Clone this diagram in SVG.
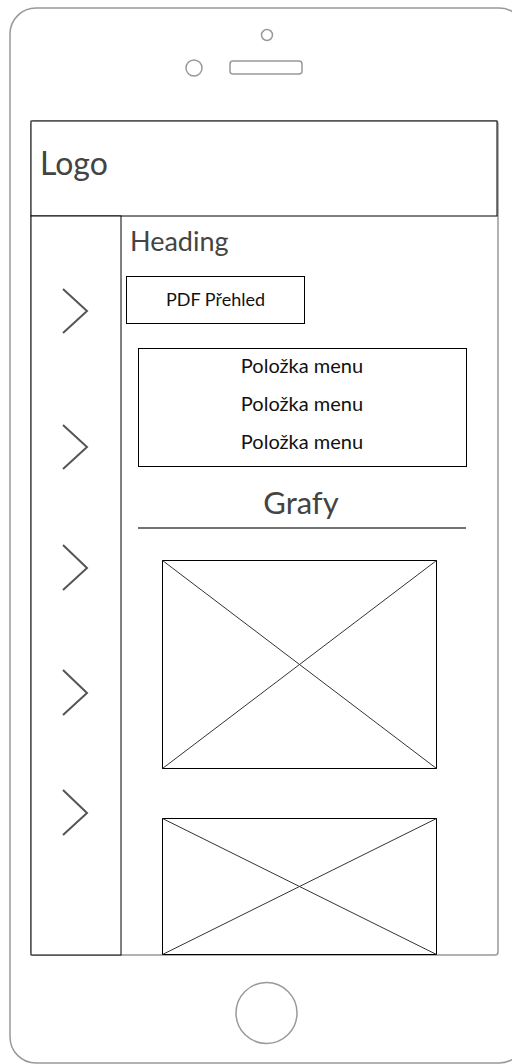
<svg xmlns="http://www.w3.org/2000/svg" width="512" height="1064" viewBox="0 0 512 1064">
  <style>
    .frame { fill: #ffffff; stroke: #999999; stroke-width: 1.5; }
    .trim { fill: none; stroke: #999999; stroke-width: 1.5; }
    .box { fill: #ffffff; stroke: #000000; stroke-width: 1; }
    .cross { stroke: #333333; stroke-width: 1; }
    .chev { fill: none; stroke: #555555; stroke-width: 2; }
    .label { font-family: Lato, "Open Sans", sans-serif; fill: #111111; }
    .title { font-family: Lato, "Open Sans", sans-serif; fill: #444444; }
  </style>

  <!-- device body -->
  <g id="device">
    <rect class="frame" x="10" y="8" width="515" height="1055" rx="26"/>
    <circle class="trim" cx="267" cy="35" r="5.5"/>
    <circle class="trim" cx="194" cy="68" r="8"/>
    <rect class="trim" x="230" y="61" width="72" height="13" rx="3"/>
    <circle class="trim" cx="266.5" cy="1013" r="30.5"/>
    <rect class="trim" x="31" y="121" width="467" height="834" rx="3"/>
  </g>

  <g id="header">
    <rect class="box" x="31" y="121" width="466" height="95"/>
    <text class="title" x="40" y="175" font-size="32">Logo</text>
  </g>

  <g id="sidebar">
    <rect class="box" x="31" y="216" width="90" height="739"/>
    <polyline class="chev" points="63,289 87,311 63,333"/>
    <polyline class="chev" points="63,425 87,447 63,469"/>
    <polyline class="chev" points="63,545 87,568 63,590"/>
    <polyline class="chev" points="63,670 87,693 63,715"/>
    <polyline class="chev" points="63,790 87,813 63,835"/>
  </g>

  <g id="heading">
    <text class="title" x="130" y="251" font-size="27">Heading</text>
  </g>

  <g id="pdf-button">
    <rect class="box" x="126.5" y="276.5" width="178" height="47"/>
    <text class="label" x="215.5" y="306" font-size="18" text-anchor="middle">PDF Přehled</text>
  </g>

  <g id="menu">
    <rect class="box" x="138.5" y="348.5" width="328" height="118"/>
    <text class="label" x="302" y="373" font-size="20" text-anchor="middle">Položka menu</text>
    <text class="label" x="302" y="411" font-size="20" text-anchor="middle">Položka menu</text>
    <text class="label" x="302" y="449" font-size="20" text-anchor="middle">Položka menu</text>
  </g>

  <g id="charts-title">
    <text class="title" x="301" y="514" font-size="31" text-anchor="middle">Grafy</text>
    <line x1="138" y1="528" x2="466" y2="528" stroke="#444444" stroke-width="1.5"/>
  </g>

  <g id="chart-1">
    <rect class="box" x="162.5" y="560.5" width="274" height="208"/>
    <line class="cross" x1="162.5" y1="560.5" x2="436.5" y2="768.5"/>
    <line class="cross" x1="436.5" y1="560.5" x2="162.5" y2="768.5"/>
  </g>

  <g id="chart-2">
    <rect class="box" x="162.5" y="818.5" width="274" height="136"/>
    <line class="cross" x1="162.5" y1="818.5" x2="436.5" y2="954.5"/>
    <line class="cross" x1="436.5" y1="818.5" x2="162.5" y2="954.5"/>
  </g>
</svg>
